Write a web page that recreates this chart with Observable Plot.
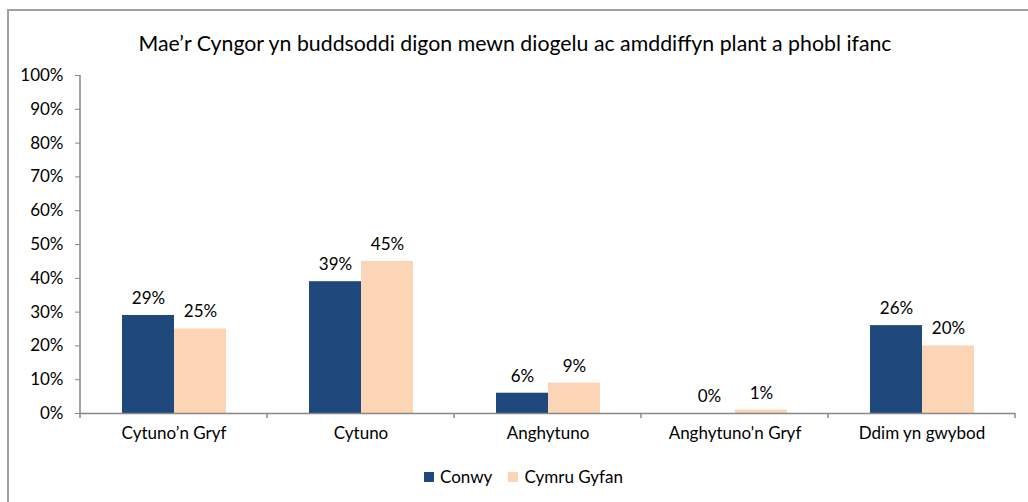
<!DOCTYPE html>
<html>
<head>
<meta charset="utf-8">
<script src="https://cdn.jsdelivr.net/npm/d3@7"></script>
<script src="https://cdn.jsdelivr.net/npm/@observablehq/plot@0.6"></script>
<style>
  html, body { margin: 0; padding: 0; background: #fff; }
  body { width: 1028px; height: 502px; position: relative; overflow: hidden; font-family: Lato, "Open Sans", sans-serif; color: #000; }
  #frame { position: absolute; left: 7px; top: 9px; width: 1100px; height: 600px; border-left: 2px solid #a0a0a0; border-top: 2px solid #a0a0a0; }
  #title { position: absolute; top: 30px; left: 0; width: 1030px; text-align: center; font-size: 21.3px; line-height: 26px; }
  #chart { position: absolute; top: 55px; left: 0; }
  #legend { position: absolute; top: 467px; left: 424px; display: flex; align-items: center; font-size: 17px; line-height: 20px; }
  #legend .item { display: flex; align-items: center; margin-right: 16px; }
  #legend .sw { width: 10px; height: 10px; margin-right: 6px; }
</style>
</head>
<body>
<div id="frame"></div>
<div id="title"></div>
<div id="chart"></div>
<div id="legend"></div>
<script>
const titleText = "Mae’r Cyngor yn buddsoddi digon mewn diogelu ac amddiffyn plant a phobl ifanc";
const categories = ["Cytuno’n Gryf", "Cytuno", "Anghytuno", "Anghytuno'n Gryf", "Ddim yn gwybod"];
const series = ["Conwy", "Cymru Gyfan"];
const conwyValues = [29, 39, 6, 0, 26];
const cymruValues = [25, 45, 9, 1, 20];
const yTicks = [0, 10, 20, 30, 40, 50, 60, 70, 80, 90, 100];
const colors = ["#1F497D", "#FBD5B5"];

const data = [];
categories.forEach((c, i) => {
  data.push({category: c, series: series[0], value: conwyValues[i]});
  data.push({category: c, series: series[1], value: cymruValues[i]});
});

document.getElementById("title").textContent = titleText;

const chart = Plot.plot({
  width: 1028,
  height: 400,
  marginTop: 20,
  marginBottom: 42,
  marginLeft: 79,
  marginRight: 13,
  style: {fontFamily: "Lato, 'Open Sans', sans-serif", fontSize: "17px", color: "#000", background: "transparent"},
  fx: {domain: categories, padding: 0, label: null},
  x: {domain: series, axis: null, paddingInner: 0, paddingOuter: 0.766},
  y: {domain: [0, 100], axis: null},
  color: {domain: series, range: colors},
  marks: [
    Plot.axisY({ticks: yTicks, tickFormat: d => d + "%", tickSize: 5, tickPadding: 12, label: null, stroke: "#888", fontSize: 17}),
    Plot.axisFx({anchor: "bottom", tickSize: 0, tickPadding: 13, label: null, fontSize: 17}),
    Plot.barY(data, {fx: "category", x: "series", y: "value", fill: "series"}),
    Plot.ruleY([0], {stroke: "#888", strokeWidth: 1.5}),
    Plot.text(data, {fx: "category", x: "series", y: "value", text: d => d.value + "%", dy: -17, fontSize: 17, fill: "#000"})
  ]
});
document.getElementById("chart").appendChild(chart);

// y-axis line and category boundary ticks, via the plot's own scales
const fxS = chart.scale("fx");
const yS = chart.scale("y");
const svg = d3.select(chart);
const y0 = yS.apply(0), y100 = yS.apply(100);
const left = fxS.apply(categories[0]);
svg.append("line").attr("x1", left).attr("x2", left).attr("y1", y100).attr("y2", y0 + 5)
  .attr("stroke", "#888").attr("stroke-width", 1.5);
categories.forEach(c => {
  const xr = fxS.apply(c) + fxS.bandwidth;
  svg.append("line").attr("x1", xr).attr("x2", xr).attr("y1", y0).attr("y2", y0 + 5)
    .attr("stroke", "#888").attr("stroke-width", 1.5);
});

const legend = document.getElementById("legend");
series.forEach((s, i) => {
  const item = document.createElement("div");
  item.className = "item";
  const sw = document.createElement("div");
  sw.className = "sw";
  sw.style.background = colors[i];
  const label = document.createElement("span");
  label.textContent = s;
  item.appendChild(sw);
  item.appendChild(label);
  legend.appendChild(item);
});
</script>
</body>
</html>
